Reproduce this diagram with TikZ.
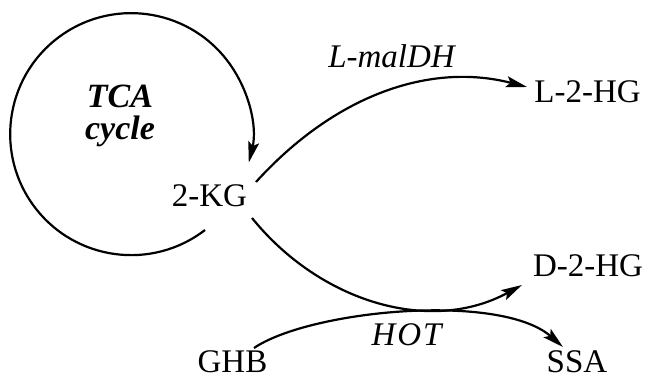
\documentclass[tikz,border=0pt]{standalone}
\usepackage{fontspec}
\setmainfont{Liberation Serif}[BoldItalicFont={Liberation Serif Bold Italic}, ItalicFont={Liberation Serif Italic}, BoldFont={Liberation Serif Bold}]
\usetikzlibrary{arrows.meta}
\tikzset{
  lbl/.style={inner sep=0pt, font=\fontsize{33}{36}\selectfont, anchor=base},
  ilbl/.style={lbl, font=\fontsize{33}{36}\selectfont\itshape},
  bilbl/.style={lbl, font=\fontsize{34}{36}\selectfont\bfseries\itshape},
  conn/.style={line width=2.2pt, -{Stealth[length=21pt,width=11pt,inset=4pt]}}
}
\begin{document}
\begin{tikzpicture}[x=1pt,y=1pt]
\useasboundingbox (0,0) rectangle (647,380);
% labels
\node[bilbl] (tca) at (120,272) {TCA};
\node[bilbl] (cyc) at (120,240) {cycle};
\node[lbl] (kg) at (209.5,173) {2-KG};
\node[lbl] (l2hg) at (587.5,277) {L-2-HG};
\node[ilbl] (lmal) at (391.5,312) {L-malDH};
\node[lbl] (d2hg) at (588,103) {D-2-HG};
\node[lbl] (ghb) at (232.5,8) {GHB};
\node[lbl] (ssa) at (577,8) {SSA};
\node[ilbl, font=\fontsize{33}{36}\selectfont\itshape\addfontfeature{LetterSpace=6}] (hot) at (406.5,35) {HOT};
% named coordinates for connector ends
\coordinate (cstart) at (205,150);
\coordinate (k1) at (256,198);
\coordinate (k2) at (252,162);
\coordinate (g1) at (254,32);
\coordinate (tl) at (527,293);
\coordinate (td) at (522,95);
\coordinate (ts) at (563,33);
% TCA cycle
\draw[conn] (cstart) arc[start angle=-52.4, end angle=-373.6, radius=121];
% 2-KG -> L-2-HG
\draw[conn] (k1) .. controls (335,285) and (430,318) .. (tl);
% 2-KG -> D-2-HG
\draw[conn] (k2) .. controls (320,78) and (430,45) .. (td);
% GHB -> SSA
\draw[conn] (g1) .. controls (310,70) and (500,88) .. (ts);
\end{tikzpicture}
\end{document}
